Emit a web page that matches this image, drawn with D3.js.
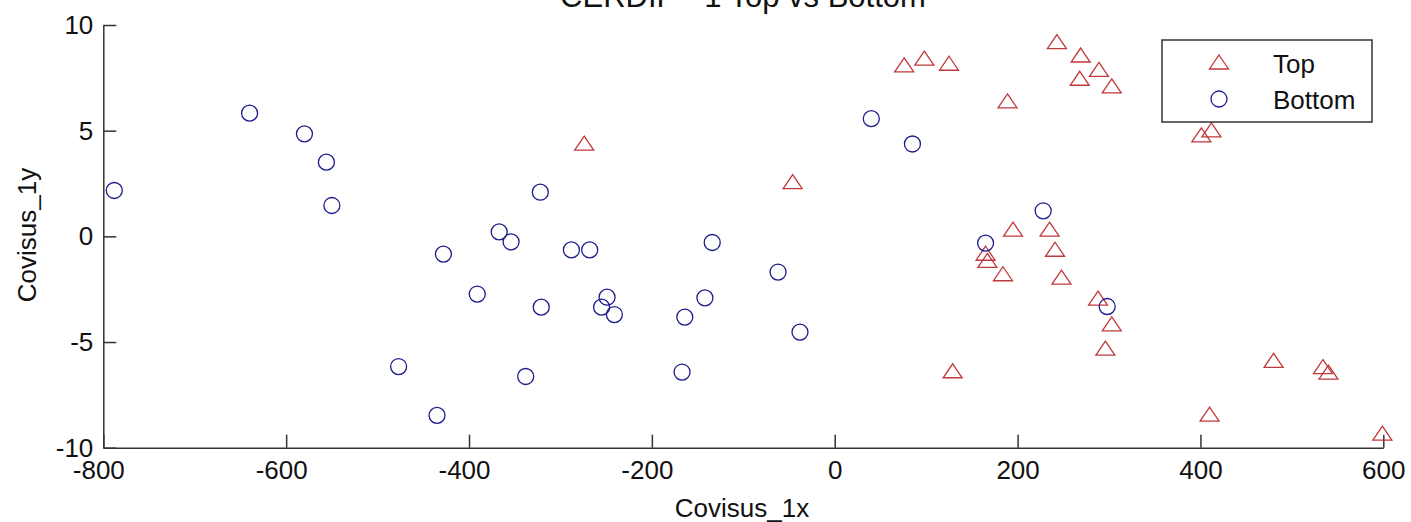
<!DOCTYPE html>
<html>
<head>
<meta charset="utf-8">
<script src="https://cdn.jsdelivr.net/npm/d3@7"></script>
<style>
    body { margin: 0; background: #fff; }
    text { font-family: "Liberation Sans", Arial, sans-serif; fill: #111; }
    .axis path, .axis line { stroke: #333; stroke-width: 1.5; }
    .axis text { font-size: 26px; fill: #111; }
</style>
</head>
<body>
<div id="chart"></div>
<script>
// values
const topX = [-274, -46, 76, 98, 125, 243, 189, 129, 195, 235, 241, 165, 167, 184, 248,
    269, 289, 268, 303, 401, 412, 288, 303, 296, 480, 534, 540, 410, 599];
const topY = [4.41, 2.59, 8.11, 8.43, 8.19, 9.21, 6.41, -6.36, 0.34, 0.34, -0.61, -0.8, -1.14, -1.77, -1.93,
    8.58, 7.90, 7.48, 7.12, 4.80, 5.04, -2.92, -4.14, -5.29, -5.87, -6.16, -6.42, -8.41, -9.31];

const bottomX = [-788, -640, -580, -556, -550, -477, -322, -367, -354, -428, -288, -268, -134, -391, -321,
    -249, -255, -241, -142, -164, -338, -167, -435, -62, -38, 40, 85, 228, 165, 298];
const bottomY = [2.17, 5.83, 4.85, 3.51, 1.46, -6.16, 2.09, 0.21, -0.26, -0.84, -0.64, -0.64, -0.29, -2.73, -3.35,
    -2.88, -3.35, -3.70, -2.91, -3.82, -6.63, -6.42, -8.47, -1.69, -4.53, 5.57, 4.37, 1.21, -0.32, -3.32];

const xTicks = [-800, -600, -400, -200, 0, 200, 400, 600];
const yTicks = [-10, -5, 0, 5, 10];

const title = "CERDIP - 1 Top vs Bottom";
const xLabel = "Covisus_1x";
const yLabel = "Covisus_1y";
const seriesNames = ["Top", "Bottom"];

const topColor = "#c0393b";
const bottomColor = "#1c1c8c";

const width = 1411;
const height = 522;
const margin = { top: 25, right: 27.7, bottom: 74.3, left: 103.3 };

const svg = d3.select("#chart")
    .append("svg")
    .attr("width", width)
    .attr("height", height);

const x = d3.scaleLinear()
    .domain([-800, 600])
    .range([margin.left, width - margin.right]);
const y = d3.scaleLinear()
    .domain([-10, 10])
    .range([height - margin.bottom, margin.top]);

// MATLAB style triangle: wider than tall, centred on its box
const triangleMarker = {
    draw(context) {
        const w = 9.5, h = 7;
        context.moveTo(0, -h);
        context.lineTo(w, h);
        context.lineTo(-w, h);
        context.closePath();
    }
};
const triPath = d3.symbol().type(triangleMarker)();

// plain hyphen for negatives, like the original
const plainFormat = d => String(d);

// axes, ticks pointing inward
svg.append("g")
    .attr("class", "axis")
    .attr("transform", `translate(0,${y(-10)})`)
    .call(d3.axisBottom(x).tickValues(xTicks).tickFormat(plainFormat)
        .tickSizeInner(-13).tickSizeOuter(0).tickPadding(13))
    .selectAll(".tick text")
    .attr("dx", d => d < 0 ? -5 : 0);

svg.append("g")
    .attr("class", "axis")
    .attr("transform", `translate(${x(-800)},0)`)
    .call(d3.axisLeft(y).tickValues(yTicks).tickFormat(plainFormat)
        .tickSizeInner(-13).tickSizeOuter(0).tickPadding(10));

// title (clipped at the top like the original)
svg.append("text")
    .attr("x", 743)
    .attr("y", 7)
    .attr("text-anchor", "middle")
    .style("font-size", "31px")
    .text(title);

// axis labels
svg.append("text")
    .attr("x", 742)
    .attr("y", 517)
    .attr("text-anchor", "middle")
    .style("font-size", "26px")
    .text(xLabel);

svg.append("text")
    .attr("transform", "translate(36,235) rotate(-90)")
    .attr("text-anchor", "middle")
    .style("font-size", "26px")
    .text(yLabel);

// series
const topData = topX.map((v, i) => ({ x: v, y: topY[i] }));
const bottomData = bottomX.map((v, i) => ({ x: v, y: bottomY[i] }));

svg.append("g")
    .selectAll("path")
    .data(topData)
    .join("path")
    .attr("d", triPath)
    .attr("transform", d => `translate(${x(d.x)},${y(d.y)})`)
    .attr("fill", "none")
    .attr("stroke", topColor)
    .attr("stroke-width", 1.3);

svg.append("g")
    .selectAll("circle")
    .data(bottomData)
    .join("circle")
    .attr("cx", d => x(d.x))
    .attr("cy", d => y(d.y))
    .attr("r", 8)
    .attr("fill", "none")
    .attr("stroke", bottomColor)
    .attr("stroke-width", 1.3);

// legend
const legend = svg.append("g")
    .attr("transform", "translate(1162,40)");

legend.append("rect")
    .attr("width", 210)
    .attr("height", 82)
    .attr("fill", "#fff")
    .attr("stroke", "#333")
    .attr("stroke-width", 1.5);

legend.append("path")
    .attr("d", triPath)
    .attr("transform", "translate(57,22)")
    .attr("fill", "none")
    .attr("stroke", topColor)
    .attr("stroke-width", 1.3);

legend.append("circle")
    .attr("cx", 57)
    .attr("cy", 59)
    .attr("r", 8)
    .attr("fill", "none")
    .attr("stroke", bottomColor)
    .attr("stroke-width", 1.3);

legend.selectAll(".legend-label")
    .data(seriesNames)
    .join("text")
    .attr("class", "legend-label")
    .attr("x", 111)
    .attr("y", (d, i) => 33 + i * 36)
    .style("font-size", "26px")
    .text(d => d);
</script>
</body>
</html>
